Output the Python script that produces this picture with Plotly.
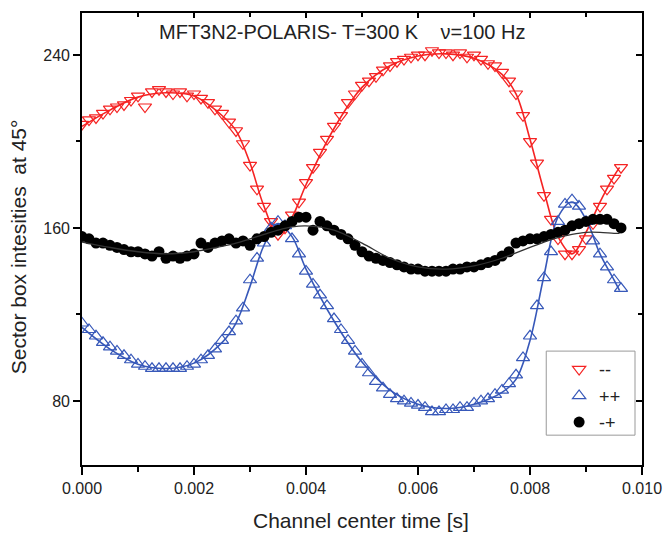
import plotly.graph_objects as go

# ---------------- data ----------------
t = [0.0, 0.000125, 0.00025, 0.000375, 0.0005, 0.000625, 0.00075, 0.000875,
     0.001, 0.001125, 0.00125, 0.001375, 0.0015, 0.001625, 0.00175, 0.001875,
     0.002, 0.002125, 0.00225, 0.002375, 0.0025, 0.002625, 0.00275, 0.002875,
     0.003, 0.003125, 0.00325, 0.003375, 0.0035, 0.003625, 0.00375, 0.003875,
     0.004, 0.004125, 0.00425, 0.004375, 0.0045, 0.004625, 0.00475, 0.004875,
     0.005, 0.005125, 0.00525, 0.005375, 0.0055, 0.005625, 0.00575, 0.005875,
     0.006, 0.006125, 0.00625, 0.006375, 0.0065, 0.006625, 0.00675, 0.006875,
     0.007, 0.007125, 0.00725, 0.007375, 0.0075, 0.007625, 0.00775, 0.007875,
     0.008, 0.008125, 0.00825, 0.008375, 0.0085, 0.008625, 0.00875, 0.008875,
     0.009, 0.009125, 0.00925, 0.009375, 0.0095, 0.009625]

mm = [208, 210, 211, 213, 215, 216, 217, 219, 221, 216, 223, 224, 223, 222, 223, 221,
      222, 220, 218, 215, 213, 209, 205, 199, 189, 178, 170, 163, 157, 160, 166, 172,
      181, 188, 195, 201, 207, 212, 218, 222, 226, 228, 230, 233, 235, 237, 238, 239,
      240, 240, 242, 241, 241, 240, 241, 239, 240, 238, 236, 235, 232, 228, 222, 212,
      200, 190, 175, 164, 155, 148, 148, 150, 155, 162, 170, 178, 183, 188]

pp = [116, 113, 110, 107, 105, 103, 101, 99, 97, 96, 95, 95, 95, 95, 95, 96,
      97, 99, 101, 104, 108, 112, 117, 123, 136, 146, 153, 160, 163, 161, 155, 148,
      140, 134, 129, 124, 118, 113, 108, 103, 97, 93, 89, 86, 83, 81, 80, 79,
      78, 77, 75, 75, 76, 76, 77, 77, 79, 80, 81, 83, 85, 88, 92, 100,
      110, 124, 137, 149, 163, 171, 173, 170, 163, 154, 148, 142, 136, 132]

mp = [156, 155, 153, 153, 152, 151, 150, 149, 149, 148, 147, 149, 146, 147, 146, 147,
      148, 153, 151, 153, 154, 155, 153, 154, 152, 155, 156, 158, 159, 161, 163, 165,
      165, 159, 163, 161, 159, 157, 155, 152, 149, 147, 146, 145, 144, 143, 142, 141,
      141, 140, 140, 140, 140, 141, 141, 142, 142, 143, 144, 145, 147, 149, 153, 154,
      155, 155, 156, 157, 158, 159, 161, 162, 163, 164, 164, 164, 162, 160]

# fitted curves
t_fit = [0.0, 0.0005, 0.001, 0.0015, 0.002, 0.0025, 0.00275, 0.003, 0.00325, 0.0035,
         0.00375, 0.004, 0.0045, 0.005, 0.0055, 0.006, 0.0065, 0.007, 0.0075, 0.00775,
         0.008, 0.00825, 0.0085, 0.00875, 0.009, 0.00925, 0.0095, 0.0096]
mm_fit = [207, 214.5, 220.5, 222.5, 221, 212, 205, 190, 170, 157,
          165, 180, 206, 225, 235, 239.5, 240.5, 238.5, 231, 222,
          201, 177, 156, 148, 158, 172, 184, 188]
pp_fit = [114, 104, 97, 95, 97.5, 107, 116, 133, 152, 162,
          156, 141, 117, 98, 85, 78.5, 76.5, 78.5, 84, 90,
          108, 138, 165, 172, 164, 148, 136, 131]
mp_fit = [153.5, 151, 149, 148, 149, 151.5, 153, 155, 157, 159,
          160.5, 161, 159, 153, 146, 142, 141, 142.5, 146, 148.5,
          151, 153.5, 155.5, 157, 158, 158, 157.5, 157.5]

labels = ["--", "++", "-+"]
x_ticks = [0.0, 0.002, 0.004, 0.006, 0.008, 0.010]
x_ticktext = ["0.000", "0.002", "0.004", "0.006", "0.008", "0.010"]
y_ticks = [80, 160, 240]

RED = "rgb(245,35,35)"
BLUE = "rgb(55,88,185)"
BLACK = "black"
FONT = "Liberation Sans, Arial, sans-serif"
TXT = "#222"

fig = go.Figure()

fig.add_trace(go.Scatter(x=t_fit, y=mm_fit, mode="lines", line=dict(color=RED, width=1.6, shape="spline"),
                         showlegend=False, hoverinfo="skip"))
fig.add_trace(go.Scatter(x=t, y=mm, mode="markers", name=labels[0],
                         marker=dict(symbol="triangle-down-open", size=11.5, color=RED, line=dict(width=1.2, color=RED))))
fig.add_trace(go.Scatter(x=t_fit, y=pp_fit, mode="lines", line=dict(color=BLUE, width=1.6, shape="spline"),
                         showlegend=False, hoverinfo="skip"))
fig.add_trace(go.Scatter(x=t, y=pp, mode="markers", name=labels[1],
                         marker=dict(symbol="triangle-up-open", size=11.5, color=BLUE, line=dict(width=1.2, color=BLUE))))
fig.add_trace(go.Scatter(x=t, y=mp, mode="markers", name=labels[2],
                         marker=dict(symbol="circle", size=11, color=BLACK)))
fig.add_trace(go.Scatter(x=t_fit, y=mp_fit, mode="lines", line=dict(color="#333", width=1.3, shape="spline"),
                         showlegend=False, hoverinfo="skip"))
# dummy trace for the mirrored top/right axes
fig.add_trace(go.Scatter(x=[None], y=[None], xaxis="x2", yaxis="y2", showlegend=False, hoverinfo="skip"))

XR = [0, 0.010]
YR = [50.4, 259.4]

axis_common = dict(showgrid=False, zeroline=False, showline=True, linecolor="black", linewidth=1.6,
                   automargin=False)

fig.update_layout(
    width=663, height=533,
    margin=dict(l=82, r=21, t=13, b=68),
    paper_bgcolor="white", plot_bgcolor="white",
    font=dict(family=FONT, color=TXT, size=16),
    xaxis=dict(range=XR, tickvals=x_ticks, ticktext=x_ticktext, ticks="outside", ticklen=8,
               tickwidth=1.5, tickcolor="black",
               minor=dict(dtick=0.001, tick0=0, ticks="outside", ticklen=5, tickwidth=1.5, tickcolor="black"),
               tickfont=dict(size=16), **axis_common),
    yaxis=dict(range=YR, tickvals=y_ticks, ticks="outside", ticklen=7, tickwidth=1.5, tickcolor="black",
               minor=dict(dtick=40, tick0=0, ticks="outside", ticklen=4, tickwidth=1.5, tickcolor="black"),
               tickfont=dict(size=16), **axis_common),
    xaxis2=dict(range=XR, overlaying="x", side="top", anchor="y2", tickvals=x_ticks, ticks="inside", ticklen=5,
                tickwidth=1.5, tickcolor="black", showticklabels=False,
                minor=dict(dtick=0.001, tick0=0, ticks="inside", ticklen=4, tickwidth=1.5, tickcolor="black"),
                **axis_common),
    yaxis2=dict(range=YR, overlaying="y", side="right", anchor="x2", tickvals=y_ticks, ticks="inside", ticklen=6,
                tickwidth=1.5, tickcolor="black", showticklabels=False,
                minor=dict(dtick=40, tick0=0, ticks="inside", ticklen=4, tickwidth=1.5, tickcolor="black"),
                **axis_common),
    legend=dict(x=0.852, y=0.252, xanchor="left", yanchor="top", bgcolor="rgba(0,0,0,0)", borderwidth=0,
                font=dict(size=18, color=TXT), tracegroupgap=0),
    annotations=[
        dict(text="MFT3N2-POLARIS- T=300 K    \u03bd=100 Hz", xref="paper", yref="paper",
             x=0.464, y=0.958, xanchor="center", yanchor="middle", showarrow=False,
             font=dict(size=20, color=TXT)),
        dict(text="Channel center time [s]", xref="paper", yref="paper", x=0.498, y=-0.122,
             xanchor="center", yanchor="middle", showarrow=False, font=dict(size=21, color=TXT)),
        dict(text="Sector box intesities  at 45°", xref="paper", yref="paper", x=-0.114, y=0.482,
             xanchor="center", yanchor="middle", textangle=-90, showarrow=False,
             font=dict(size=21, color=TXT)),
    ],
    shapes=[dict(type="rect", xref="paper", yref="paper", x0=0.829, x1=0.9875, y0=0.066, y1=0.252,
                 line=dict(color="#999", width=1), fillcolor="rgba(0,0,0,0)")],
)

fig.write_html("out.html", config={"displayModeBar": False},
               post_script="document.body.style.margin='0';")
